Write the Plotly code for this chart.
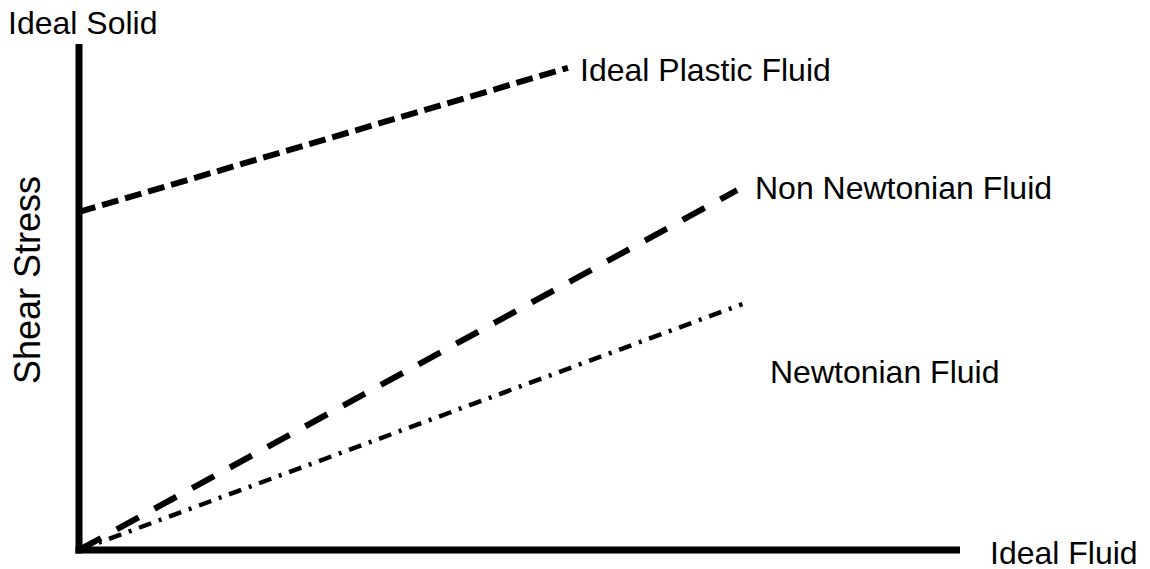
import plotly.graph_objects as go

# conceptual units: shear rate on x, shear stress on y (both 0..10)
plastic_x = [0.0, 5.55]
plastic_y = [6.68, 9.53]

non_newton_x = [0.0, 7.47]
non_newton_y = [0.0, 7.11]

newton_x = [0.0, 7.53]
newton_y = [0.0, 4.86]

labels = ["Ideal Solid", "Ideal Plastic Fluid", "Non Newtonian Fluid",
          "Newtonian Fluid", "Ideal Fluid"]

OFF = 8  # page body margin around the plot div
W, H = 1150 - OFF, 569 - OFF
L, R, T, B = 79 - OFF, 190, 44 - OFF, 19
PW, PH = W - L - R, H - T - B
FONT = "Liberation Sans, Arial, sans-serif"

fig = go.Figure()

fig.add_trace(go.Scatter(x=plastic_x, y=plastic_y, mode="lines",
                         line=dict(color="black", width=6, dash="17px,7px")))
fig.add_trace(go.Scatter(x=non_newton_x, y=non_newton_y, mode="lines",
                         line=dict(color="black", width=6, dash="25px,18px")))
fig.add_trace(go.Scatter(x=newton_x, y=newton_y, mode="lines",
                         line=dict(color="black", width=4.5,
                                   dash="13px,8px,3px,8px")))

# screen pixel -> paper (paper is relative to the plot area)
def px(x):
    return (x - OFF - L) / PW

def py(y):
    return (H - B - (y - OFF)) / PH

# the two thick axis lines
fig.add_shape(type="line", xref="paper", yref="paper",
              x0=0, x1=0, y0=py(553.5), y1=1,
              line=dict(color="black", width=7))
fig.add_shape(type="line", xref="paper", yref="paper",
              x0=px(75.5), x1=px(960), y0=0, y1=0,
              line=dict(color="black", width=7))

txt = [
    (labels[0], 6, 23),
    (labels[1], 578, 70),
    (labels[2], 753, 188),
    (labels[3], 768, 372),
    (labels[4], 988, 553),
]
for t, x, y in txt:
    fig.add_annotation(text=t, x=px(x), y=py(y), xref="paper", yref="paper",
                       xanchor="left", yanchor="middle", showarrow=False,
                       font=dict(family=FONT, size=32, color="black"))

fig.add_annotation(text="Shear Stress", x=px(27), y=py(280), xref="paper",
                   yref="paper", textangle=-90, showarrow=False,
                   xanchor="center", yanchor="middle",
                   font=dict(family=FONT, size=36, color="black"))

fig.update_layout(
    width=W, height=H,
    margin=dict(l=L, r=R, t=T, b=B),
    plot_bgcolor="white", paper_bgcolor="white",
    showlegend=False,
    xaxis=dict(range=[0, 10], showgrid=False, zeroline=False,
               showticklabels=False, ticks="", showline=False),
    yaxis=dict(range=[0, 10], showgrid=False, zeroline=False,
               showticklabels=False, ticks="", showline=False),
)

fig.write_html("out.html")
